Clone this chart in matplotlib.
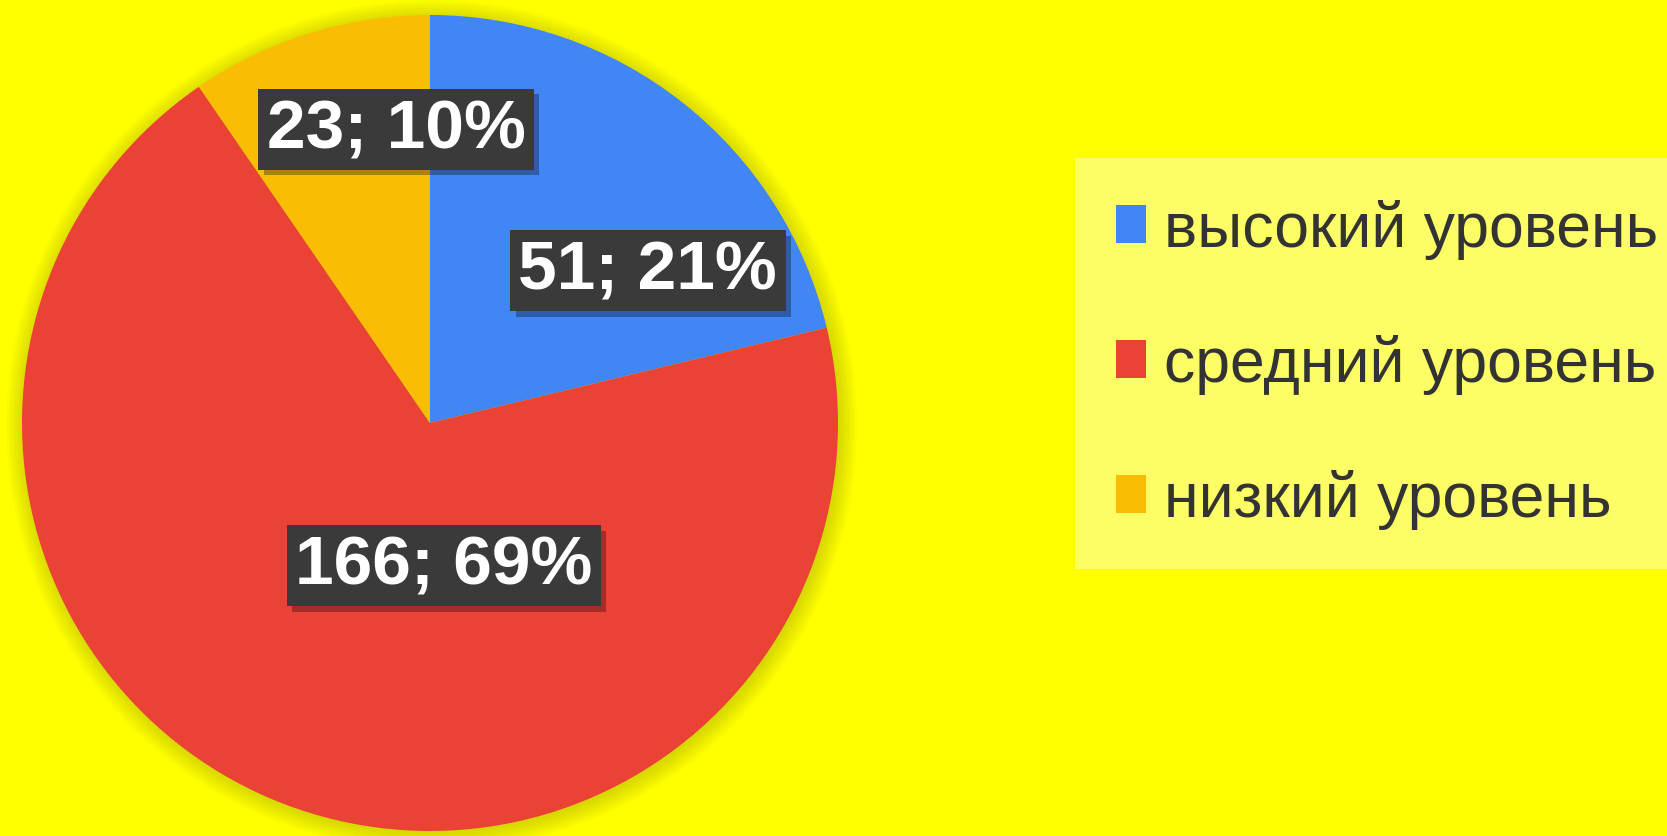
import matplotlib.pyplot as plt
import matplotlib.patheffects as pe
from matplotlib.patches import Patch, Circle

# data
levels = ['высокий уровень', 'средний уровень', 'низкий уровень']
counts = [51, 166, 23]
shares = [21, 69, 10]
colors = ['#4285f4', '#ea4335', '#fbbc04']

W, H = 1667, 837
fig = plt.figure(figsize=(W / 100, H / 100), dpi=100)
fig.patch.set_facecolor('#ffff00')

# pie axes: centre (430, 424) px from top-left, radius 408 px
cx, cy, r = 430, 424, 408
ax = fig.add_axes([(cx - r) / W, (H - cy - r) / H, 2 * r / W, 2 * r / H])
ax.set_facecolor('none')

# soft halo behind the pie
for i in range(8):
    ax.add_patch(Circle((0.004, -0.006), 1 + 0.006 * i, facecolor='#707000',
                        edgecolor='none', alpha=0.035, zorder=0, clip_on=False))

wedges, _ = ax.pie(counts, colors=colors, startangle=90, counterclock=False,
                   radius=1, wedgeprops=dict(linewidth=0, zorder=1))
ax.set_xlim(-1, 1)
ax.set_ylim(-1, 1)
ax.set_aspect('equal')
ax.axis('off')

# label positions inside the slices (axes data units)
label_pos = [(0.534, 0.373), (0.034, -0.35), (-0.083, 0.72)]
for (x, y), n, p in zip(label_pos, counts, shares):
    t = ax.text(x, y, f'{n}; {p}%', ha='center', va='center', color='white',
                fontsize=50, fontweight='bold', family='Liberation Sans', zorder=3,
                bbox=dict(boxstyle='square,pad=0.12', facecolor='#3a3a3a',
                          edgecolor='none'))
    t.get_bbox_patch().set_path_effects(
        [pe.SimplePatchShadow(offset=(4, -4), shadow_rgbFace='#000000', alpha=0.3),
         pe.Normal()])

handles = [Patch(facecolor=c, edgecolor='none') for c in colors]
leg = fig.legend(handles, levels, loc='upper left',
                 bbox_to_anchor=(1075 / W, 1 - 159 / H),
                 prop=dict(family='Liberation Sans', size=45),
                 frameon=True, facecolor='#fdfd66', edgecolor='none', framealpha=1,
                 fancybox=False, handlelength=0.48, handleheight=0.56,
                 handletextpad=0.3, labelspacing=1.2, borderpad=0.65,
                 borderaxespad=0)
for txt in leg.get_texts():
    txt.set_color('#333333')

fig.savefig('out.png', dpi=100, facecolor=fig.get_facecolor())
